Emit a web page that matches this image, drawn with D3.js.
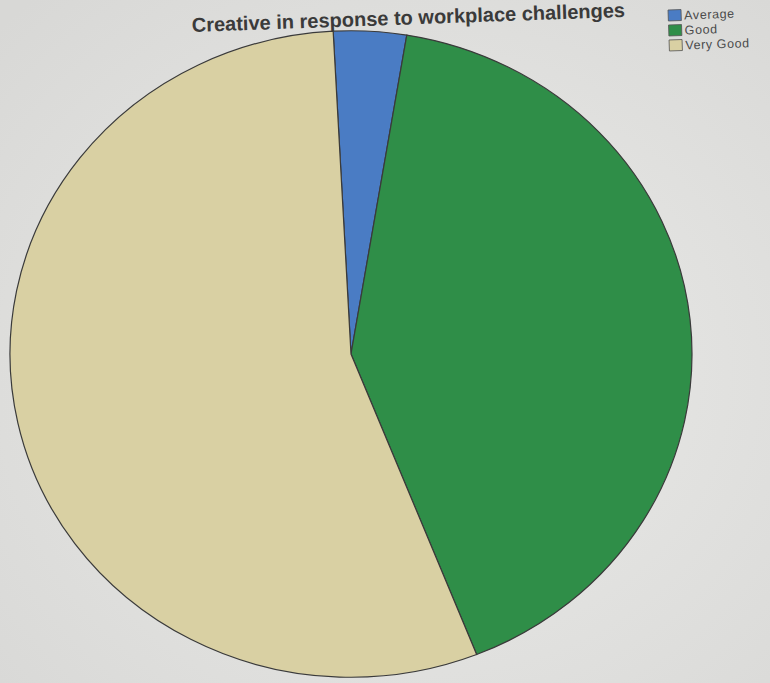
<!DOCTYPE html>
<html>
<head>
<meta charset="utf-8">
<script src="https://cdn.jsdelivr.net/npm/d3@7"></script>
<style>
  body { margin: 0; background: #e4e4e2; }
  svg { display: block; }
</style>
</head>
<body>
<div id="chart"></div>
<script>
var categories = ["Average", "Good", "Very Good"];
var counts = [1, 12, 16];
var colors = ["#4a7cc4", "#2f8e48", "#d9d0a3"];
var title = "Creative in response to workplace challenges";

var width = 770,
    height = 683;

var svg = d3.select("#chart").append("svg")
    .attr("width", width)
    .attr("height", height);

// Background with a light photo-like shading
var defs = svg.append("defs");
var grad = defs.append("radialGradient")
    .attr("id", "bg")
    .attr("cx", "55%").attr("cy", "55%").attr("r", "75%");
grad.append("stop").attr("offset", "0%").attr("stop-color", "#ebebe9");
grad.append("stop").attr("offset", "100%").attr("stop-color", "#d8d8d6");

svg.append("rect")
    .attr("width", width)
    .attr("height", height)
    .style("fill", "url(#bg)");

// Pie
var tilt = -3 * Math.PI / 180;

var pie = d3.pie()
    .sort(null)
    .startAngle(tilt)
    .endAngle(tilt + 2 * Math.PI)
    .value(function(d) { return d; });

var arc = d3.arc()
    .innerRadius(0)
    .outerRadius(341);

var g = svg.append("g")
    .attr("transform", "translate(351,354) scale(1,0.948)");

g.selectAll(".slice")
    .data(pie(counts))
  .enter().append("path")
    .attr("class", "slice")
    .attr("d", arc)
    .style("fill", function(d, i) { return colors[i]; })
    .style("stroke", "#3a3a3a")
    .style("stroke-width", 1.2)
    .style("vector-effect", "non-scaling-stroke");

// Title
svg.append("text")
    .attr("x", 192)
    .attr("y", 32)
    .attr("transform", "rotate(-2,192,32)")
    .style("font-family", "'Liberation Sans', Arial, sans-serif")
    .style("font-weight", "bold")
    .style("font-size", "20px")
    .style("fill", "#3a3a3a")
    .text(title);

// Legend
var legend = svg.append("g")
    .attr("transform", "translate(668,10) rotate(-2)");

var item = legend.selectAll(".item")
    .data(categories)
  .enter().append("g")
    .attr("class", "item")
    .attr("transform", function(d, i) { return "translate(0," + (i * 15) + ")"; });

item.append("rect")
    .attr("width", 13)
    .attr("height", 11)
    .style("fill", function(d, i) { return colors[i]; })
    .style("stroke", "#555")
    .style("stroke-width", 0.8);

item.append("text")
    .attr("x", 16)
    .attr("y", 10)
    .style("font-family", "'Liberation Sans', Arial, sans-serif")
    .style("font-size", "12.5px")
    .style("letter-spacing", "0.6px")
    .style("fill", "#4a4a4a")
    .text(function(d) { return d; });
</script>
</body>
</html>
